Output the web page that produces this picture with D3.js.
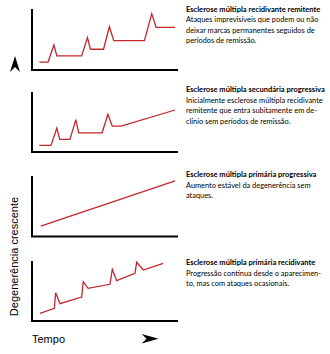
<!DOCTYPE html>
<html>
<head>
<meta charset="utf-8">
<script src="https://cdn.jsdelivr.net/npm/d3@7"></script>
<style>
  body { margin: 0; background: #fff; }
  .title { font-family: Lato, "Open Sans", sans-serif; font-weight: bold; }
  .note { font-family: Lato, "Open Sans", sans-serif; }
  .axis-label { font-family: "Liberation Sans", Arial, sans-serif; font-size: 11px; }
</style>
</head>
<body>
<svg id="chart" width="330" height="354"></svg>
<script>
// four courses of the disease, time vs. degeneration (0-100)
const titles = [
    "Esclerose múltipla recidivante remitente",
    "Esclerose múltipla secundária progressiva",
    "Esclerose múltipla primária progressiva",
    "Esclerose múltipla primária recidivante"
];
const notes = [
    ["Ataques imprevisíveis que podem ou não", "deixar marcas permanentes seguidos de", "períodos de remissão."],
    ["Inicialmente esclerose múltipla recidivante", "remitente que entra subitamente em de-", "clínio sem períodos de remissão."],
    ["Aumento estável da degenerência sem", "ataques."],
    ["Progressão contínua desde o aparecimen-", "to, mas com ataques ocasionais."]
];

const rrTime  = [5, 11, 15, 17, 34, 38, 40, 49, 53, 56, 77, 82, 85, 98];
const rrLevel = [13, 13, 41, 23, 23, 53, 34, 34, 71, 48, 48, 92, 70, 70];

const spTime  = [5, 13, 17, 19, 26, 30, 32, 48, 52, 55, 61, 98];
const spLevel = [11, 11, 40, 21, 21, 54, 32, 32, 63, 43, 43, 70];

const ppTime  = [6, 98];
const ppLevel = [17, 92];

const prTime  = [5.5, 15.3, 16.2, 19.2, 34, 35.1, 38.4, 53.4, 55, 58, 70.5, 71.7, 76.2, 89.9];
const prLevel = [12.8, 21.2, 47.2, 28.8, 40, 65.5, 54.5, 61.2, 86.2, 67.2, 79.5, 97.8, 85, 96.2];

const series = [[rrTime, rrLevel], [spTime, spLevel], [ppTime, ppLevel], [prTime, prLevel]];

// vertical extent of each small panel
const panelTop    = [9, 92, 176, 261];
const panelBottom = [70, 152, 236.5, 321];
const titleY      = [11.5, 92, 177, 265];

const svg = d3.select("#chart");
const red = "#c1272d";

// pick a font size so a given line spans the wanted width
function fitSize(cls, str, width) {
    let probe = svg.append("text").attr("class", cls).style("font-size", "10px").text(str);
    let size = 10 * width / probe.node().getComputedTextLength();
    probe.remove();
    return size;
}
let titleSize = fitSize("title", titles[1], 139);
let noteSize = fitSize("note", notes[1][0], 137);

let x = d3.scaleLinear().domain([0, 100]).range([32, 178]);

series.forEach((s, i) => {
    let y = d3.scaleLinear().domain([0, 100]).range([panelBottom[i], panelTop[i]]);
    let g = svg.append("g").attr("class", "panel");

    // bare L-shaped axes
    g.append("path")
        .attr("d", `M${x(0)},${y(100)}V${y(0)}H${x(100)}`)
        .attr("fill", "none")
        .attr("stroke", "#000")
        .attr("stroke-width", 2);

    let pts = s[0].map((t, k) => [t, s[1][k]]);
    let line = d3.line().x(d => x(d[0])).y(d => y(d[1]));
    g.append("path")
        .attr("d", line(pts))
        .attr("fill", "none")
        .attr("stroke", red)
        .attr("stroke-width", 1.3)
        .attr("stroke-linejoin", "miter");

    let tx = 186;
    g.append("text")
        .attr("class", "title")
        .attr("x", tx)
        .attr("y", titleY[i])
        .style("font-size", titleSize + "px")
        .text(titles[i]);

    g.selectAll("text.note")
        .data(notes[i])
        .enter().append("text")
        .attr("class", "note")
        .attr("x", tx)
        .attr("y", (d, k) => titleY[i] + 10.5 + k * 10.5)
        .style("font-size", noteSize + "px")
        .text(d => d);
});

// y axis label and arrow
svg.append("text")
    .attr("class", "axis-label")
    .attr("transform", "translate(18,256.5) rotate(-90)")
    .attr("text-anchor", "middle")
    .text("Degenerência crescente");

svg.append("path")
    .attr("d", "M15,56L20,72L15,67L10,72Z")
    .attr("fill", "#000");

// x axis label and arrow
svg.append("text")
    .attr("class", "axis-label")
    .attr("x", 32)
    .attr("y", 342.5)
    .text("Tempo");

svg.append("path")
    .attr("d", "M158.5,338.7L141.7,343.5L146.5,338.7L141.7,334Z")
    .attr("fill", "#000");
</script>
</body>
</html>
